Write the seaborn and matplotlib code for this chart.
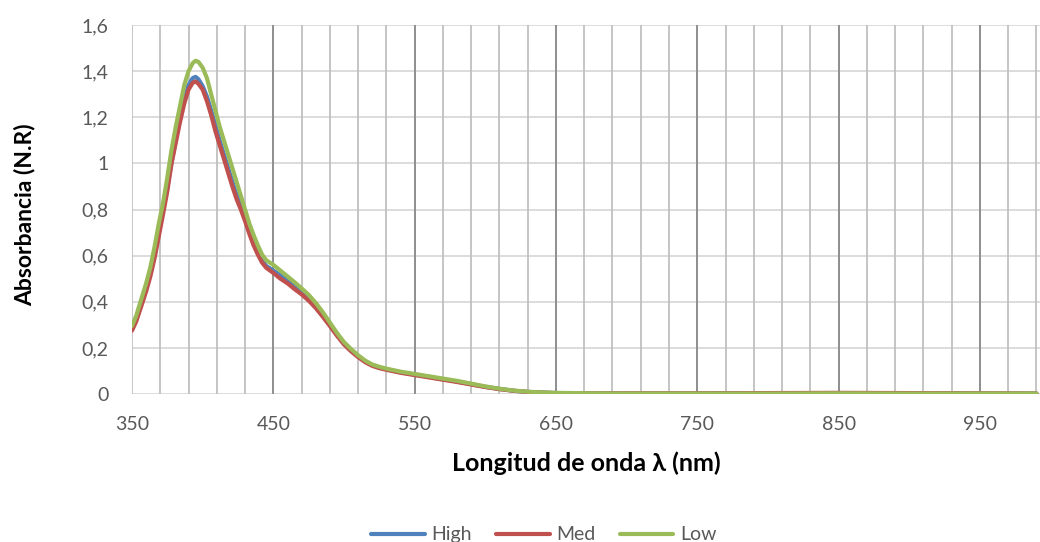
import numpy as np
import pandas as pd
import matplotlib
matplotlib.use("Agg")
import matplotlib.pyplot as plt
import seaborn as sns

# Wavelength grid (nm) shared by the three spectra
wavelength = [350, 353, 356, 360, 363, 366, 369, 372, 375, 378, 381, 384, 387, 390,
              393, 395, 397, 400, 403, 406, 409, 412, 415, 418, 421, 424, 427, 430,
              433, 436, 439, 442, 445, 450, 455, 460, 465, 470, 475, 480, 485, 490,
              495, 500, 505, 510, 515, 520, 525, 530, 540, 550, 560, 570, 580, 590,
              600, 610, 620, 630, 640, 650, 675, 700, 750, 800, 850, 900, 950, 990]

high = [0.280, 0.322, 0.380, 0.455, 0.525, 0.605, 0.700, 0.795, 0.895, 1.005, 1.105,
        1.195, 1.275, 1.340, 1.370, 1.375, 1.365, 1.335, 1.290, 1.230, 1.165, 1.100,
        1.040, 0.980, 0.920, 0.865, 0.815, 0.760, 0.705, 0.655, 0.615, 0.580, 0.555,
        0.535, 0.515, 0.490, 0.465, 0.440, 0.412, 0.380, 0.342, 0.300, 0.258, 0.220,
        0.190, 0.163, 0.141, 0.125, 0.115, 0.107, 0.094, 0.084, 0.074, 0.064, 0.054,
        0.043, 0.031, 0.022, 0.014, 0.009, 0.006, 0.004, 0.003, 0.002, 0.002, 0.003,
        0.003, 0.003, 0.002, 0.002]

med = [0.275, 0.315, 0.370, 0.445, 0.510, 0.590, 0.685, 0.780, 0.880, 1.000, 1.090,
       1.180, 1.260, 1.320, 1.350, 1.355, 1.345, 1.320, 1.270, 1.210, 1.140, 1.080,
       1.020, 0.960, 0.900, 0.845, 0.800, 0.750, 0.695, 0.645, 0.605, 0.570, 0.547,
       0.525, 0.500, 0.480, 0.455, 0.432, 0.405, 0.373, 0.335, 0.295, 0.253, 0.215,
       0.185, 0.160, 0.138, 0.122, 0.112, 0.105, 0.092, 0.082, 0.072, 0.062, 0.052,
       0.041, 0.030, 0.021, 0.014, 0.009, 0.006, 0.004, 0.003, 0.003, 0.003, 0.004,
       0.005, 0.004, 0.003, 0.002]

low = [0.295, 0.340, 0.400, 0.480, 0.550, 0.640, 0.740, 0.830, 0.940, 1.060, 1.160,
       1.250, 1.340, 1.400, 1.435, 1.445, 1.440, 1.415, 1.370, 1.300, 1.230, 1.160,
       1.100, 1.040, 0.980, 0.920, 0.860, 0.800, 0.740, 0.690, 0.645, 0.605, 0.580,
       0.560, 0.535, 0.510, 0.485, 0.458, 0.430, 0.395, 0.355, 0.310, 0.265, 0.225,
       0.195, 0.168, 0.145, 0.128, 0.118, 0.110, 0.097, 0.087, 0.077, 0.067, 0.057,
       0.045, 0.033, 0.023, 0.015, 0.010, 0.007, 0.005, 0.003, 0.002, 0.002, 0.002,
       0.003, 0.002, 0.002, 0.002]

series_names = ["High", "Med", "Low"]
series_colors = ["#4F81BD", "#C0504D", "#9BBB59"]

x_ticks = [350, 450, 550, 650, 750, 850, 950]
y_ticks = [0, 0.2, 0.4, 0.6, 0.8, 1.0, 1.2, 1.4, 1.6]
y_tick_labels = ["0", "0,2", "0,4", "0,6", "0,8", "1", "1,2", "1,4", "1,6"]

df = pd.DataFrame({
    "wavelength": wavelength * 3,
    "absorbance": high + med + low,
    "sample": sum([[n] * len(wavelength) for n in series_names], []),
})

sns.set_theme(style="white")
plt.rcParams["font.family"] = ["Lato", "DejaVu Sans"]

fig = plt.figure(figsize=(10.4, 5.42), dpi=100)
ax = fig.add_axes([132 / 1040, 1 - 394 / 542, 1 - 132 / 1040, (394 - 25) / 542])

# gridlines: horizontal every 0.2, vertical minor every 20 nm, darker every 100 nm
for yv in y_ticks:
    ax.axhline(yv, color="#d9d9d9", lw=1.3, zorder=0)
for xv in range(350, 1000, 20):
    ax.axvline(xv, color="#c0c0c0", lw=1.3, zorder=0)
for xv in x_ticks[1:]:
    ax.axvline(xv, color="#8c8c8c", lw=1.3, zorder=0.5)

sns.lineplot(data=df, x="wavelength", y="absorbance", hue="sample",
             hue_order=series_names, palette=series_colors, lw=3.0,
             sort=False, estimator=None, ax=ax, legend=False, zorder=3)

ax.set_xlim(350, 992.5)
ax.set_ylim(0, 1.6)
ax.set_xticks(x_ticks)
ax.set_xticklabels([str(v) for v in x_ticks])
ax.set_yticks(y_ticks)
ax.set_yticklabels(y_tick_labels)
ax.tick_params(axis="both", length=0, labelsize=14, colors="#595959")
ax.tick_params(axis="y", pad=17)
ax.tick_params(axis="x", pad=16)
for s in ax.spines.values():
    s.set_visible(False)

ax.set_xlabel("Longitud de onda λ (nm)", fontsize=18, fontweight="bold",
              color="#000000", labelpad=13)
ax.set_ylabel("Absorbancia (N.R)", fontsize=16.5, fontweight="bold",
              color="#000000")
ax.yaxis.set_label_coords(-0.106, 0.487)

handles = [plt.Line2D([], [], color=c, lw=3.0) for c in series_colors]
fig.legend(handles, series_names, loc="lower center", ncol=3, frameon=False,
           bbox_to_anchor=(0.523, -0.035), fontsize=14, handlelength=2.75,
           handletextpad=0.35, columnspacing=1.25, labelcolor="#595959")

fig.savefig("out.png", dpi=100)
